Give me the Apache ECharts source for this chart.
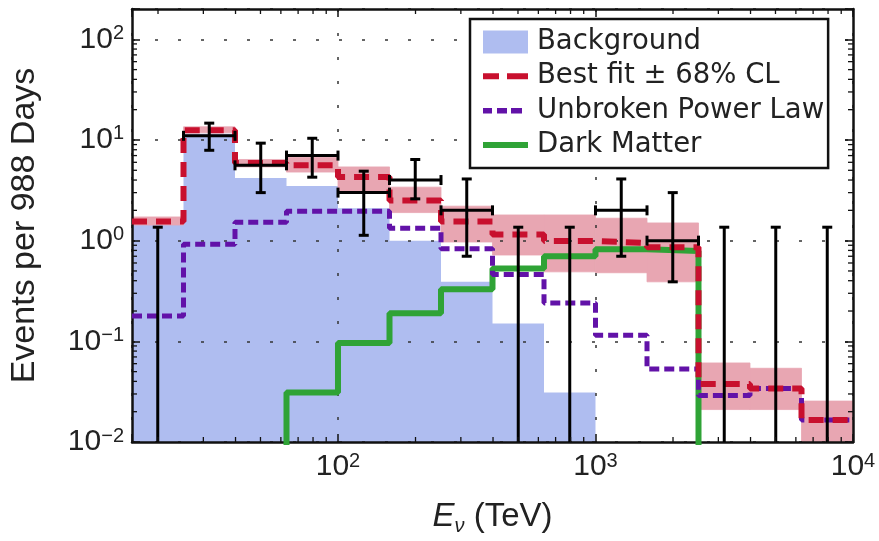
<!DOCTYPE html>
<html>
<head>
<meta charset="utf-8">
<script src="https://cdn.jsdelivr.net/npm/echarts@6/dist/echarts.min.js"></script>
<style>
  html, body { margin: 0; background: #fff; }
  #chart { width: 879px; height: 541px; }
</style>
</head>
<body>
<div id="chart"></div>
<script>
// bin edges in TeV (0.2 decade bins)
const binEdges = [15.85, 25.12, 39.81, 63.10, 100, 158.5, 251.2, 398.1, 631.0, 1000, 1585, 2512, 3981, 6310, 10000]
// one value per bin (14 bins); 0.001 / 0.005 = below the axis, not visible
const background = [1.43, 11.5, 4.2, 3.5, 2.1, 1.0, 0.39, 0.15, 0.031, 0.001, 0.001, 0.001, 0.001, 0.001]
const bestFit = [1.55, 12.5, 5.9, 5.6, 4.3, 2.5, 1.55, 1.15, 0.99, 0.95, 0.86, 0.0377, 0.034, 0.0165]
const fitLow = [1.43, 11.8, 5.4, 4.8, 3.0, 1.9, 0.97, 0.72, 0.49, 0.48, 0.39, 0.021, 0.021, 0.01]
const fitHigh = [1.72, 13.5, 6.4, 6.7, 5.4, 3.4, 2.2, 1.8, 1.8, 1.67, 1.5, 0.061, 0.054, 0.0255]
const powerLaw = [0.178, 0.92, 1.52, 1.96, 1.96, 1.33, 0.83, 0.46, 0.24, 0.115, 0.053, 0.029, 0.034, 0.0165]
const darkMatter = [0.005, 0.005, 0.005, 0.031, 0.096, 0.19, 0.33, 0.53, 0.70, 0.82, 0.79, 0.005, 0.005, 0.005]
// observed events, 0 = no events (upper limit only)
const events = [0, 11, 5.6, 7, 3, 4, 2, 0, 0, 2, 1, 0, 0, 0]
const errLow = [0, 7.9, 3.0, 4.27, 1.13, 2.6, 0.70, 0, 0, 0.70, 0.39, 0, 0, 0]
const errHigh = [1.36, 14.7, 9.3, 10.4, 4.9, 6.4, 4.1, 1.36, 1.36, 4.1, 3.0, 1.36, 1.36, 1.36]

const xMin = binEdges[0]
const xMax = binEdges[binEdges.length - 1]
const yMin = 0.01
const yMax = 200

const FRAME = '#111'
const TEXT = '#222'
const BLUE = '#afbdf0'
const PINK = '#e8a6b2'
const RED = '#c8102e'
const PURPLE = '#6212a8'
const GREEN = '#2fa336'

function stepData(vals) {
  const d = vals.map((v, i) => [binEdges[i], v])
  d.push([binEdges[vals.length], vals[vals.length - 1]])
  return d
}

// log minor tick positions (2..9 x 10^k) inside [lo, hi]
function minorTicks(lo, hi) {
  const out = []
  for (let k = -3; k <= 4; k++) {
    for (let m = 2; m <= 9; m++) {
      const v = m * Math.pow(10, k)
      if (v > lo && v < hi) out.push(v)
    }
  }
  return out
}

function powLabel(v) {
  const lg = Math.log10(v)
  const e = Math.round(lg)
  if (Math.abs(lg - e) > 1e-6) return ''
  return '{b|10}{s|' + (e < 0 ? '\u2212' + (-e) : e) + '}'
}

const labelRich = {
  b: { fontSize: 30, fontFamily: 'Liberation Sans', color: TEXT, lineHeight: 32 },
  s: { fontSize: 20, fontFamily: 'Liberation Sans', color: TEXT, lineHeight: 20, verticalAlign: 'top' }
}

// legend icons drawn in a 45x23 box (tiny corner squares keep the box size)
const BOX = 'M0,0h0.05v0.05h-0.05z M44.95,22.95h0.05v0.05h-0.05z '
const ICON_RED = 'path://' + BOX + 'M0,8.5h16v6h-16z M24,8.5h21v6h-21z'
const ICON_PURPLE = 'path://' + BOX + 'M0,9h9v5.5h-9z M14,9h10v5.5h-10z M28,9h11v5.5h-11z'
const ICON_GREEN = 'path://' + BOX + 'M0,8.5h45v6h-45z'

const chart = echarts.init(document.getElementById('chart'))

const errData = events.map((n, i) => [
  Math.sqrt(binEdges[i] * binEdges[i + 1]), n, errLow[i], errHigh[i], binEdges[i], binEdges[i + 1]
])
const bandData = fitLow.map((lo, i) => [binEdges[i], binEdges[i + 1], lo, fitHigh[i]])

chart.setOption({
  animation: false,
  backgroundColor: '#fff',
  grid: { left: 132, right: 26, top: 9, bottom: 99 },
  legend: {
    orient: 'vertical',
    left: 470,
    top: 19,
    padding: [7, 4, 7, 13],
    itemGap: 2.3,
    itemWidth: 45,
    itemHeight: 23,
    backgroundColor: '#fff',
    borderColor: FRAME,
    borderWidth: 2.5,
    z: 10,
    textStyle: { fontFamily: 'DejaVu Sans', fontSize: 27.5, color: '#222', lineHeight: 32, padding: [0, 0, 0, 4] },
    data: [
      { name: 'Background', icon: 'rect', itemStyle: { color: BLUE } },
      { name: 'Best fit \u00b1 68% CL', icon: ICON_RED, itemStyle: { color: RED } },
      { name: 'Unbroken Power Law', icon: ICON_PURPLE, itemStyle: { color: PURPLE } },
      { name: 'Dark Matter', icon: ICON_GREEN, itemStyle: { color: GREEN } }
    ]
  },
  xAxis: [
    {
      type: 'log',
      min: xMin,
      max: xMax,
      z: 3,
      axisLine: { lineStyle: { color: FRAME, width: 2.5 } },
      axisTick: { inside: true, length: 8, lineStyle: { color: FRAME, width: 1.5 } },
      axisLabel: { margin: 9, formatter: powLabel, rich: labelRich },
      splitLine: { show: true, lineStyle: { color: '#333', width: 1.5, type: [3, 21] } },
      name: '{i|E}{sub|\u03bd}{n| (TeV)}',
      nameLocation: 'middle',
      nameGap: 56,
      nameTextStyle: {
        rich: {
          i: { fontSize: 33, fontStyle: 'italic', fontFamily: 'Liberation Sans', color: TEXT, lineHeight: 38 },
          sub: { fontSize: 20, fontStyle: 'italic', fontFamily: 'Liberation Sans', color: TEXT, verticalAlign: 'bottom', lineHeight: 20 },
          n: { fontSize: 33, fontFamily: 'Liberation Sans', color: TEXT, lineHeight: 38 }
        }
      }
    },
    {
      type: 'log',
      position: 'top',
      min: xMin,
      max: xMax,
      z: 3,
      axisLine: { lineStyle: { color: FRAME, width: 2.5 } },
      axisTick: { inside: true, length: 8, lineStyle: { color: FRAME, width: 1.5 } },
      axisLabel: { show: false },
      splitLine: { show: false }
    }
  ],
  yAxis: [
    {
      type: 'log',
      min: yMin,
      max: yMax,
      z: 3,
      axisLine: { lineStyle: { color: FRAME, width: 2.5 } },
      axisTick: { inside: true, length: 8, lineStyle: { color: FRAME, width: 1.5 } },
      axisLabel: { margin: 8, formatter: powLabel, rich: labelRich },
      splitLine: { show: true, lineStyle: { color: '#333', width: 1.5, type: [3, 20] } },
      name: 'Events per 988 Days',
      nameLocation: 'middle',
      nameGap: 90,
      nameTextStyle: { fontSize: 34, fontFamily: 'Liberation Sans', color: TEXT }
    },
    {
      type: 'log',
      position: 'right',
      min: yMin,
      max: yMax,
      z: 3,
      axisLine: { lineStyle: { color: FRAME, width: 2.5 } },
      axisTick: { inside: true, length: 8, lineStyle: { color: FRAME, width: 1.5 } },
      axisLabel: { show: false },
      splitLine: { show: false }
    }
  ],
  series: [
    {
      name: 'Background',
      type: 'line',
      step: 'end',
      z: 1,
      symbol: 'none',
      lineStyle: { width: 0 },
      areaStyle: { color: BLUE, opacity: 1, origin: 'start' },
      data: stepData(background)
    },
    {
      name: 'band',
      type: 'custom',
      z: 2,
      silent: true,
      encode: { x: [0, 1], y: [2, 3] },
      data: bandData,
      renderItem(params, api) {
        const p0 = api.coord([api.value(0), api.value(3)])
        const p1 = api.coord([api.value(1), api.value(2)])
        return {
          type: 'rect',
          shape: { x: p0[0], y: p0[1], width: p1[0] - p0[0], height: p1[1] - p0[1] },
          style: { fill: PINK, stroke: PINK, lineWidth: 0.8 }
        }
      }
    },
    {
      name: 'Dark Matter',
      type: 'line',
      step: 'end',
      z: 4,
      symbol: 'none',
      itemStyle: { color: GREEN },
      lineStyle: { color: GREEN, width: 6 },
      data: stepData(darkMatter)
    },
    {
      name: 'Unbroken Power Law',
      type: 'line',
      step: 'end',
      z: 5,
      symbol: 'none',
      itemStyle: { color: PURPLE },
      lineStyle: { color: PURPLE, width: 5, type: [10, 5] },
      data: stepData(powerLaw)
    },
    {
      name: 'Best fit \u00b1 68% CL',
      type: 'line',
      step: 'end',
      z: 6,
      symbol: 'none',
      itemStyle: { color: RED },
      lineStyle: { color: RED, width: 6, type: [15, 9] },
      data: stepData(bestFit)
    },
    {
      name: 'data',
      type: 'custom',
      z: 7,
      encode: { x: 0, y: 3 },
      data: errData,
      renderItem(params, api) {
        const cs = params.coordSys
        const bottom = cs.y + cs.height
        const xc = api.value(0)
        const n = api.value(1)
        const lo = api.value(2)
        const hi = api.value(3)
        const top = api.coord([xc, hi])
        const px = top[0]
        const pLo = lo > 0 ? api.coord([xc, lo])[1] : bottom
        const st = { stroke: '#000', lineWidth: 3 }
        const cap = 5
        const kids = [
          { type: 'line', shape: { x1: px, y1: top[1], x2: px, y2: pLo }, style: st },
          { type: 'line', shape: { x1: px - cap, y1: top[1], x2: px + cap, y2: top[1] }, style: st }
        ]
        if (lo > 0) {
          kids.push({ type: 'line', shape: { x1: px - cap, y1: pLo, x2: px + cap, y2: pLo }, style: st })
        }
        if (n > 0) {
          const py = api.coord([xc, n])[1]
          const a = api.coord([api.value(4), n])[0]
          const b = api.coord([api.value(5), n])[0]
          kids.push({ type: 'line', shape: { x1: a, y1: py, x2: b, y2: py }, style: st })
          kids.push({ type: 'line', shape: { x1: a, y1: py - cap, x2: a, y2: py + cap }, style: st })
          kids.push({ type: 'line', shape: { x1: b, y1: py - cap, x2: b, y2: py + cap }, style: st })
        }
        return { type: 'group', children: kids }
      }
    },
    {
      name: 'xminor',
      type: 'custom',
      z: 8,
      silent: true,
      data: minorTicks(xMin, xMax).map(v => [v, 1]),
      renderItem(params, api) {
        const cs = params.coordSys
        const x = api.coord([api.value(0), 1])[0]
        const st = { stroke: FRAME, lineWidth: 1.3 }
        return {
          type: 'group',
          children: [
            { type: 'line', shape: { x1: x, y1: cs.y + cs.height, x2: x, y2: cs.y + cs.height - 5 }, style: st },
            { type: 'line', shape: { x1: x, y1: cs.y, x2: x, y2: cs.y + 5 }, style: st }
          ]
        }
      }
    },
    {
      name: 'yminor',
      type: 'custom',
      z: 8,
      silent: true,
      data: minorTicks(yMin, yMax).map(v => [100, v]),
      renderItem(params, api) {
        const cs = params.coordSys
        const y = api.coord([100, api.value(1)])[1]
        const st = { stroke: FRAME, lineWidth: 1.3 }
        return {
          type: 'group',
          children: [
            { type: 'line', shape: { x1: cs.x, y1: y, x2: cs.x + 5, y2: y }, style: st },
            { type: 'line', shape: { x1: cs.x + cs.width, y1: y, x2: cs.x + cs.width - 5, y2: y }, style: st }
          ]
        }
      }
    }
  ]
})
</script>
</body>
</html>
